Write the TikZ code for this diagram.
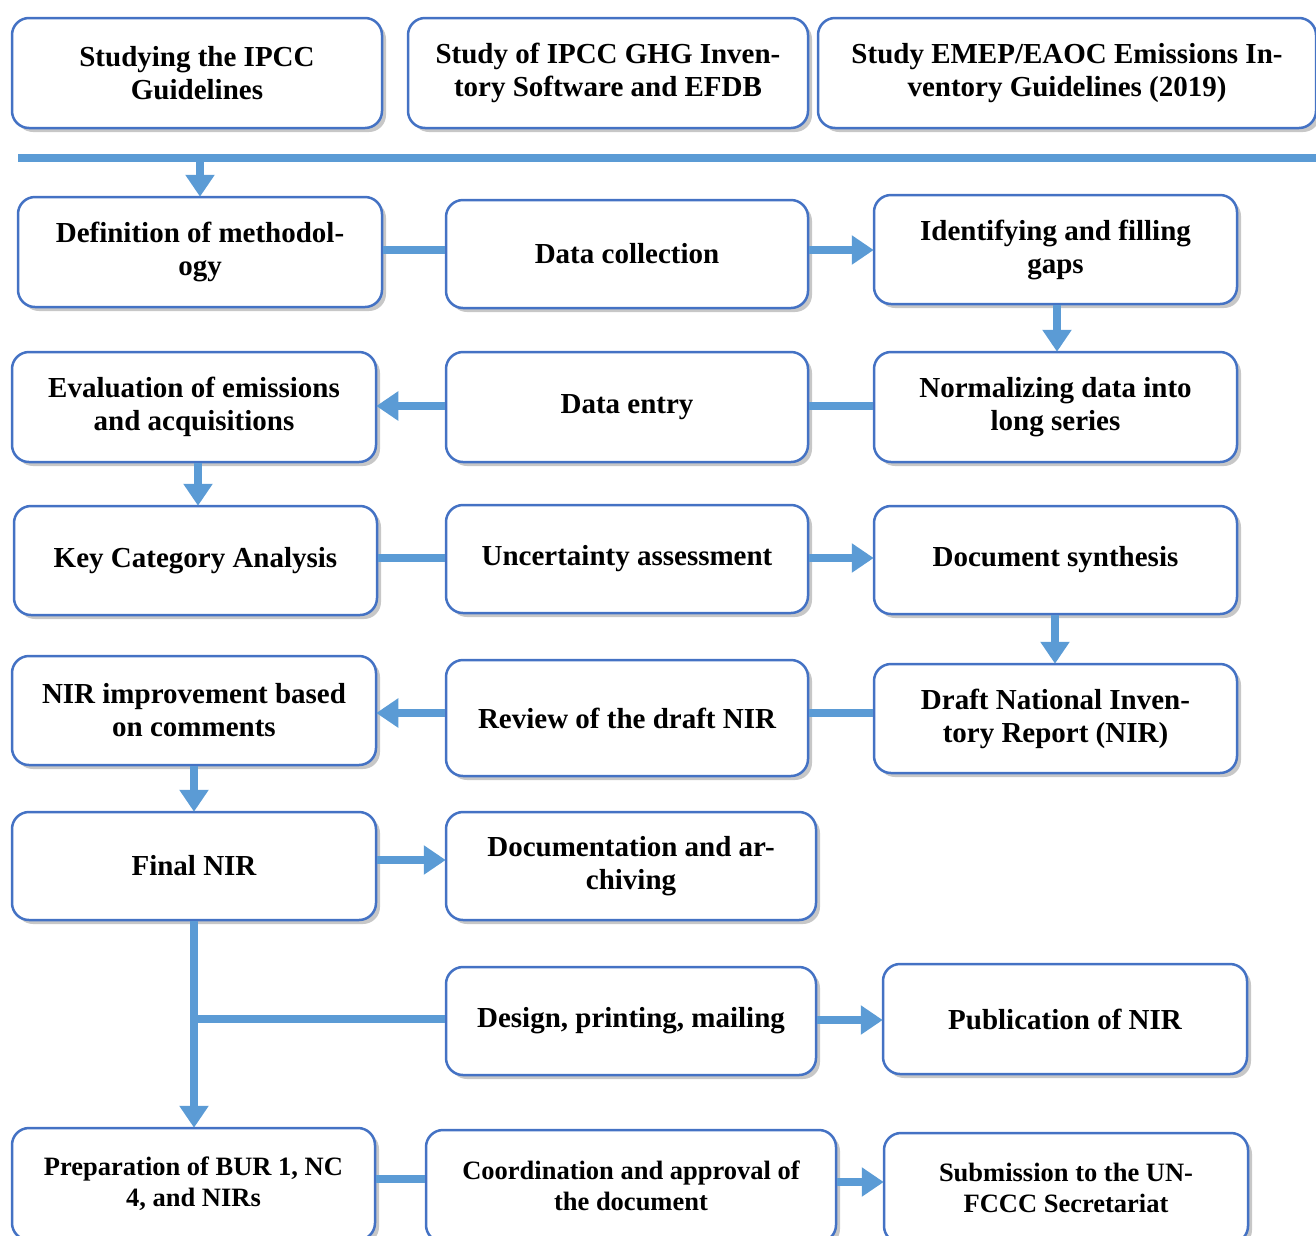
\documentclass[tikz,border=0pt]{standalone}
\usepackage{fontspec}
\setmainfont{Liberation Serif}
\usetikzlibrary{arrows.meta,shadows}
\definecolor{bordblue}{RGB}{68,114,196}
\definecolor{connblue}{RGB}{91,155,213}
\begin{document}
\begin{tikzpicture}[x=1pt,y=-1pt,
  box/.style={draw=bordblue, line width=2.5pt, rounded corners=17pt, fill=white,
    align=center, inner sep=2pt,
    font=\bfseries\fontsize{29}{33}\selectfont,
    drop shadow={shadow xshift=4pt, shadow yshift=-4pt, fill=black, opacity=0.22}},
  smallbox/.style={box, font=\bfseries\fontsize{26.5}{31}\selectfont},
  conn/.style={draw=connblue, line width=8pt},
  arr/.style={conn, -{Triangle[length=22pt,width=28pt]}, shorten >=-1pt}
]
\useasboundingbox (0,0) rectangle (1316,1235);

% top row
\node[box, minimum width=370pt, minimum height=110pt] (A1) at (197,73) {Studying the IPCC\\Guidelines};
\node[box, minimum width=400pt, minimum height=110pt] (A2) at (608,73) {Study of IPCC GHG Inven-\\tory Software and EFDB};
\node[box, minimum width=498pt, minimum height=110pt] (A3) at (1067,73) {Study EMEP/EAOC Emissions In-\\ventory Guidelines (2019)};

\coordinate (barL) at (18,158);
\coordinate (barR) at (1320,158);
\draw[conn] (barL) -- (barR);

% row 1
\node[box, minimum width=364pt, minimum height=110pt] (B1) at (200,252) {Definition of methodol-\\ogy};
\node[box, minimum width=362pt, minimum height=108pt] (B2) at (627,254) {Data collection};
\node[box, minimum width=363pt, minimum height=109pt] (B3) at (1055.5,249.5) {Identifying and filling\\gaps};

% row 2
\node[box, minimum width=364pt, minimum height=110pt] (C1) at (194,407) {Evaluation of emissions\\and acquisitions};
\node[box, minimum width=362pt, minimum height=110pt] (C2) at (627,407) {Data entry};
\node[box, minimum width=363pt, minimum height=110pt] (C3) at (1055.5,407) {Normalizing data into\\long series};

% row 3
\node[box, minimum width=363pt, minimum height=109pt] (D1) at (195.5,560.5) {Key Category Analysis};
\node[box, minimum width=362pt, minimum height=108pt] (D2) at (627,559) {Uncertainty assessment};
\node[box, minimum width=363pt, minimum height=108pt] (D3) at (1055.5,560) {Document synthesis};

% row 4
\node[box, minimum width=364pt, minimum height=109pt] (E1) at (194,710.5) {NIR improvement based\\on comments};
\node[box, minimum width=362pt, minimum height=116pt] (E2) at (627,718) {Review of the draft NIR};
\node[box, minimum width=363pt, minimum height=109pt] (E3) at (1055.5,718.5) {Draft National Inven-\\tory Report (NIR)};

% row 5
\node[box, minimum width=364pt, minimum height=108pt] (F1) at (194,866) {Final NIR};
\node[box, minimum width=370pt, minimum height=108pt] (F2) at (631,866) {Documentation and ar-\\chiving};

% row 6
\node[box, minimum width=370pt, minimum height=108pt] (G2) at (631,1021) {Design, printing, mailing};
\node[box, minimum width=364pt, minimum height=110pt] (G3) at (1065,1019) {Publication of NIR};

% row 7
\node[smallbox, minimum width=363pt, minimum height=112pt] (H1) at (193.5,1184) {Preparation of BUR 1, NC\\4, and NIRs};
\node[smallbox, minimum width=410pt, minimum height=112pt] (H2) at (631,1186) {Coordination and approval of\\the document};
\node[smallbox, minimum width=364pt, minimum height=110pt] (H3) at (1066,1188) {Submission to the UN-\\FCCC Secretariat};

% connectors
\draw[arr] (B1.north |- barL) -- (B1.north);

\draw[conn] (B1.east |- 0,250) -- (B2.west |- 0,250);
\draw[arr] (B2.east |- 0,250) -- (B3.west |- 0,250);
\draw[arr] (B3.south -| 1057,0) -- (C3.north -| 1057,0);

\draw[conn] (C3.west |- 0,406) -- (C2.east |- 0,406);
\draw[arr] (C2.west |- 0,406) -- (C1.east |- 0,406);
\draw[arr] (C1.south -| 198,0) -- (D1.north -| 198,0);

\draw[conn] (D1.east |- 0,558) -- (D2.west |- 0,558);
\draw[arr] (D2.east |- 0,558) -- (D3.west |- 0,558);
\draw[arr] (D3.south -| 1055,0) -- (E3.north -| 1055,0);

\draw[conn] (E3.west |- 0,713) -- (E2.east |- 0,713);
\draw[arr] (E2.west |- 0,713) -- (E1.east |- 0,713);
\draw[arr] (E1.south) -- (F1.north);

\draw[arr] (F1.east |- 0,860) -- (F2.west |- 0,860);

\coordinate (branch) at (194,1019);
\draw[arr] (F1.south) -- (H1.north -| F1.south);
\draw[conn] (branch) -- (G2.west |- branch);
\draw[arr] (G2.east |- 0,1020) -- (G3.west |- 0,1020);

\draw[conn] (H1.east |- 0,1179) -- (H2.west |- 0,1179);
\draw[arr] (H2.east |- 0,1182) -- (H3.west |- 0,1182);
\end{tikzpicture}
\end{document}
